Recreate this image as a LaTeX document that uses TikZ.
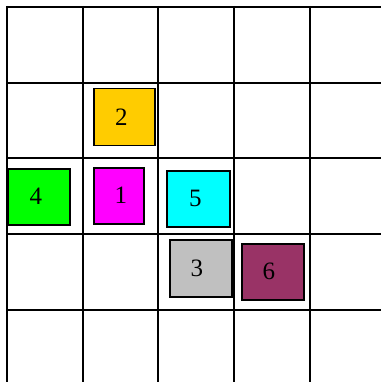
\documentclass[tikz,border=0pt]{standalone}
\usepackage{fontspec}
\setmainfont{Liberation Serif}
\definecolor{cgold}{HTML}{FFCC00}
\definecolor{cmag}{HTML}{FF00FF}
\definecolor{ccyan}{HTML}{00FFFF}
\definecolor{csilver}{HTML}{C0C0C0}
\definecolor{cplum}{HTML}{993366}
\definecolor{cgreen}{HTML}{00FF00}
\begin{document}
\begin{tikzpicture}[x=1pt,y=-1pt,
  gridline/.style={line width=2pt,draw=black},
  box/.style={draw=black,line width=1.5pt,inner sep=0pt,anchor=north west},
  num/.style={font=\fontsize{25}{25}\selectfont,text=black}]
\useasboundingbox (0,0) rectangle (381,382);
\fill[white] (0,0) rectangle (381,382);
% grid
\foreach \v in {7,83,158,234,310} {
  \draw[gridline] (\v,6) -- (\v,382);
  \draw[gridline] (6,\v) -- (381,\v);
}
% boxes
\node[box,fill=cgold,minimum width=61pt,minimum height=57pt,label={[num,xshift=-3pt]center:2}] (b2) at (93,88) {};
\node[box,fill=cmag,minimum width=50pt,minimum height=56pt,label={[num,xshift=2pt,yshift=1pt]center:1}] (b1) at (93,167) {};
\node[box,fill=ccyan,minimum width=63pt,minimum height=56pt,label={[num,xshift=-3pt]center:5}] (b5) at (166,170) {};
\node[box,fill=csilver,minimum width=62pt,minimum height=57pt,label={[num,xshift=-4pt]center:3}] (b3) at (169,239) {};
\node[box,fill=cplum,minimum width=62pt,minimum height=56pt,label={[num,xshift=-4pt]center:6}] (b6) at (241,243) {};
\node[box,fill=cgreen,minimum width=62pt,minimum height=56pt,label={[num,xshift=-3pt]center:4}] (b4) at (7,168) {};
\end{tikzpicture}
\end{document}
